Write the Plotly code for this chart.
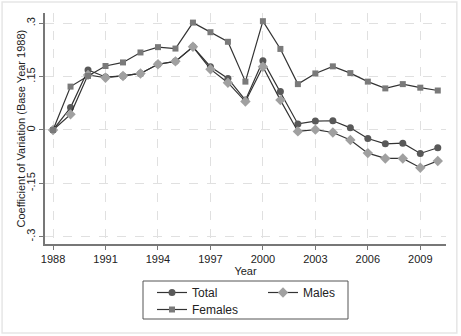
import plotly.graph_objects as go

years = list(range(1988, 2011))
total = [0, 0.063, 0.169, 0.149, 0.152, 0.159, 0.185, 0.193, 0.234, 0.178, 0.145, 0.084,
         0.195, 0.108, 0.017, 0.025, 0.026, 0.006, -0.024, -0.039, -0.037, -0.066, -0.050]
males = [0, 0.044, 0.155, 0.147, 0.152, 0.159, 0.185, 0.193, 0.234, 0.171, 0.133, 0.080,
         0.178, 0.084, -0.004, 0.001, -0.007, -0.028, -0.065, -0.080, -0.080, -0.106, -0.087]
females = [0, 0.122, 0.152, 0.180, 0.190, 0.218, 0.233, 0.229, 0.302, 0.275, 0.248, 0.136,
           0.306, 0.228, 0.129, 0.159, 0.179, 0.160, 0.136, 0.117, 0.129, 0.119, 0.111]

ytick_vals = [0.3, 0.15, 0, -0.15, -0.3]
ytick_text = [".3", ".15", "0", "-.15", "-.3"]
xtick_vals = [1988, 1991, 1994, 1997, 2000, 2003, 2006, 2009]

fig = go.Figure()
fig.add_trace(go.Scatter(x=years, y=total, name="Total", mode="lines+markers",
                         line=dict(color="#333333", width=1.2),
                         marker=dict(symbol="circle", size=7, color="#595959"),
                         legend="legend"))
fig.add_trace(go.Scatter(x=years, y=males, name="Males", mode="lines+markers",
                         line=dict(color="#333333", width=1.2),
                         marker=dict(symbol="diamond", size=8, color="#a0a0a0"),
                         legend="legend"))
fig.add_trace(go.Scatter(x=years, y=females, name="Females", mode="lines+markers",
                         line=dict(color="#333333", width=1.2),
                         marker=dict(symbol="square", size=6, color="#7a7a7a"),
                         legend="legend2"))

fig.update_layout(
    width=461, height=336,
    margin=dict(l=45, r=15, t=13, b=92, autoexpand=False),
    paper_bgcolor="white", plot_bgcolor="white",
    font=dict(family="Liberation Sans, Arial, sans-serif", size=11, color="#222222"),
    xaxis=dict(range=[1987.54, 2010.47], tickvals=xtick_vals, showgrid=True,
               gridcolor="#e0e0e0", griddash="dash", gridwidth=1,
               showline=True, linecolor="#777777", linewidth=1.5,
               ticks="outside", ticklen=4, tickcolor="#777777",
               title=dict(text="Year", standoff=2, font=dict(size=11)),
               zeroline=False),
    yaxis=dict(range=[-0.3206, 0.329], tickvals=ytick_vals, ticktext=ytick_text,
               tickangle=-90, showgrid=True, gridcolor="#e0e0e0", griddash="dash",
               gridwidth=1, showline=True, linecolor="#777777", linewidth=1.5,
               ticks="outside", ticklen=4, tickcolor="#777777",
               zeroline=False),
    legend=dict(orientation="h", xref="container", yref="container",
                x=152 / 461, xanchor="left", y=1 - 278 / 336, yanchor="top",
                entrywidth=66, font=dict(size=12), bgcolor="rgba(0,0,0,0)"),
    legend2=dict(orientation="h", xref="container", yref="container",
                 x=152 / 461, xanchor="left", y=1 - 295 / 336, yanchor="top",
                 entrywidth=66, font=dict(size=12), bgcolor="rgba(0,0,0,0)"),
    showlegend=True,
)

fig.add_annotation(text="Coefficient of Variation (Base Year 1988)", xref="paper", yref="paper",
                   x=(20 - 45) / 401, y=0.5, textangle=-90, showarrow=False,
                   font=dict(size=11), xanchor="center", yanchor="middle")

fig.add_shape(type="rect", xref="paper", yref="paper",
              x0=(143 - 45) / 401, x1=(348 - 45) / 401,
              y0=(244 - 319) / 231, y1=(244 - 281) / 231,
              line=dict(color="#555555", width=1), fillcolor="rgba(0,0,0,0)")

fig.add_shape(type="rect", xref="paper", yref="paper",
              x0=-0.107, x1=1.027, y0=-0.385, y1=1.048,
              line=dict(color="#e6e6e6", width=1.5), fillcolor="rgba(0,0,0,0)", layer="below")

fig.write_html("out.html")
